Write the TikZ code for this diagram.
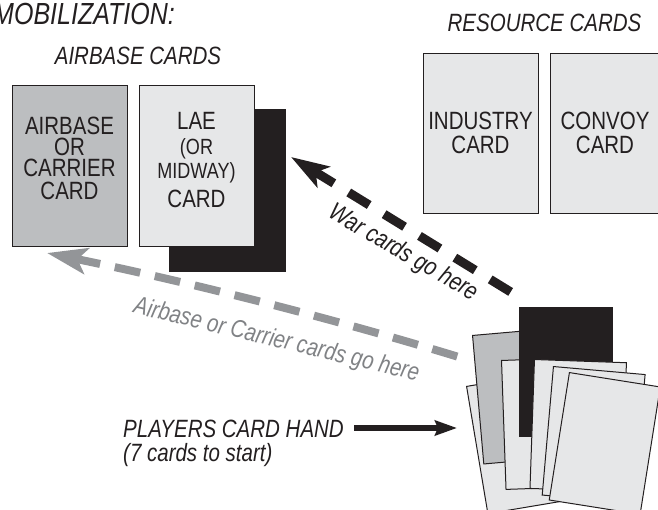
\documentclass[tikz,border=0pt]{standalone}
\usepackage{fontspec}
\setmainfont{Liberation Sans}[FakeStretch=0.82]
\usetikzlibrary{arrows.meta}
\definecolor{ink}{HTML}{231F20}
\definecolor{cardgray}{HTML}{BCBEC0}
\definecolor{cardlight}{HTML}{E6E7E8}
\definecolor{arrowgray}{HTML}{939598}
\definecolor{textgray}{HTML}{808285}
\newcommand\fsz[1]{\fontsize{#1}{#1}\selectfont}
\begin{document}
\begin{tikzpicture}[x=1pt,y=-1pt,
  card/.style={draw=ink, line width=1.2pt, inner sep=0pt, minimum width=115pt, minimum height=161pt, anchor=north west},
  handcard/.style={draw=ink, line width=1pt, fill=cardlight, inner sep=0pt, minimum width=92pt, minimum height=129pt, anchor=north west},
  lbl/.style={inner sep=0pt, text=ink, anchor=base, font=\fsz{25}},
  small/.style={lbl, font=\fsz{22}},
  ttl/.style={inner sep=0pt, text=ink, anchor=base, font=\fsz{25}\itshape},
  wararrow/.style={ink, line width=9pt, dash pattern=on 24pt off 17.5pt},
  abarrow/.style={arrowgray, line width=8pt, dash pattern=on 26pt off 15pt}
]
\useasboundingbox (0,0) rectangle (658,510);

% titles
\node[ttl, anchor=base east, font=\fsz{30.5}\itshape] (mob) at (175,25) {MOBILIZATION:};
\node[ttl] (abtitle) at (138,65) {AIRBASE CARDS};
\node[ttl] (restitle) at (544.5,32) {RESOURCE CARDS};

% airbase cards
\node[card, fill=cardgray] (abcard) at (12,85) {};
\node[card, fill=ink, minimum width=116pt, minimum height=162pt] (laeback) at (169,109) {};
\node[card, fill=cardlight] (laecard) at (139,85) {};
\node[lbl] (ab1) at (69.5,135) {AIRBASE};
\node[lbl] (ab2) at (69.5,155.5) {OR};
\node[lbl] (ab3) at (69.5,177) {CARRIER};
\node[lbl] (ab4) at (69.5,200) {CARD};
\node[lbl] (lae1) at (196.5,130) {LAE};
\node[small] (lae2) at (196.5,155) {(OR};
\node[small] (lae3) at (196.5,179) {MIDWAY)};
\node[lbl] (lae4) at (196.5,208) {CARD};

% resource cards
\node[card, fill=cardlight, minimum height=160pt] (indcard) at (423,53) {};
\node[card, fill=cardlight, minimum height=160pt] (convcard) at (550,53) {};
\node[lbl] (ind1) at (480.5,130) {INDUSTRY};
\node[lbl] (ind2) at (480.5,153.5) {CARD};
\node[lbl] (conv1) at (605,130) {CONVOY};
\node[lbl] (conv2) at (605,153.5) {CARD};

% hand of cards
\node[handcard, rotate=9.5] (hA) at (466,386) {};
\node[handcard, rotate=5, fill=cardgray] (hB) at (472,335) {};
\node[handcard, rotate=2] (hD) at (501,360) {};
\node[handcard, fill=ink, minimum width=93pt] (hC) at (519,307) {};
\node[handcard, rotate=-2] (hE) at (534,359) {};
\node[handcard, rotate=-5] (hF) at (553,366) {};
\node[handcard, rotate=-9] (hG) at (569,372) {};

% arrows
\coordinate (wartip) at (291,157);
\coordinate (warend) at (514,294);
\draw[wararrow, {Stealth[length=38pt,width=24pt,inset=9pt]}-] (wartip) -- (warend);
\coordinate (abtip) at (47,253);
\coordinate (abend) at (462,358);
\draw[abarrow, {Stealth[length=40pt,width=26pt,inset=9pt]}-] (abtip) .. controls (184,281) and (328,317) .. (abend);

\node[ttl, rotate=-30] (wartext) at (400,259) {War cards go here};
\node[ttl, rotate=-13.5, text=textgray] (abtext) at (275,347) {Airbase or Carrier cards go here};

% players hand
\node[ttl, anchor=base west] (plyr) at (123,437) {PLAYERS CARD HAND};
\node[ttl, anchor=base west] (plyr2) at (123,461) {(7 cards to start)};
\coordinate (handpt) at (457,428);
\draw[ink, line width=5.5pt, -{Stealth[length=22pt,width=15pt,inset=3pt]}] ([xshift=10pt]plyr.east |- handpt) -- (handpt);
\end{tikzpicture}
\end{document}
